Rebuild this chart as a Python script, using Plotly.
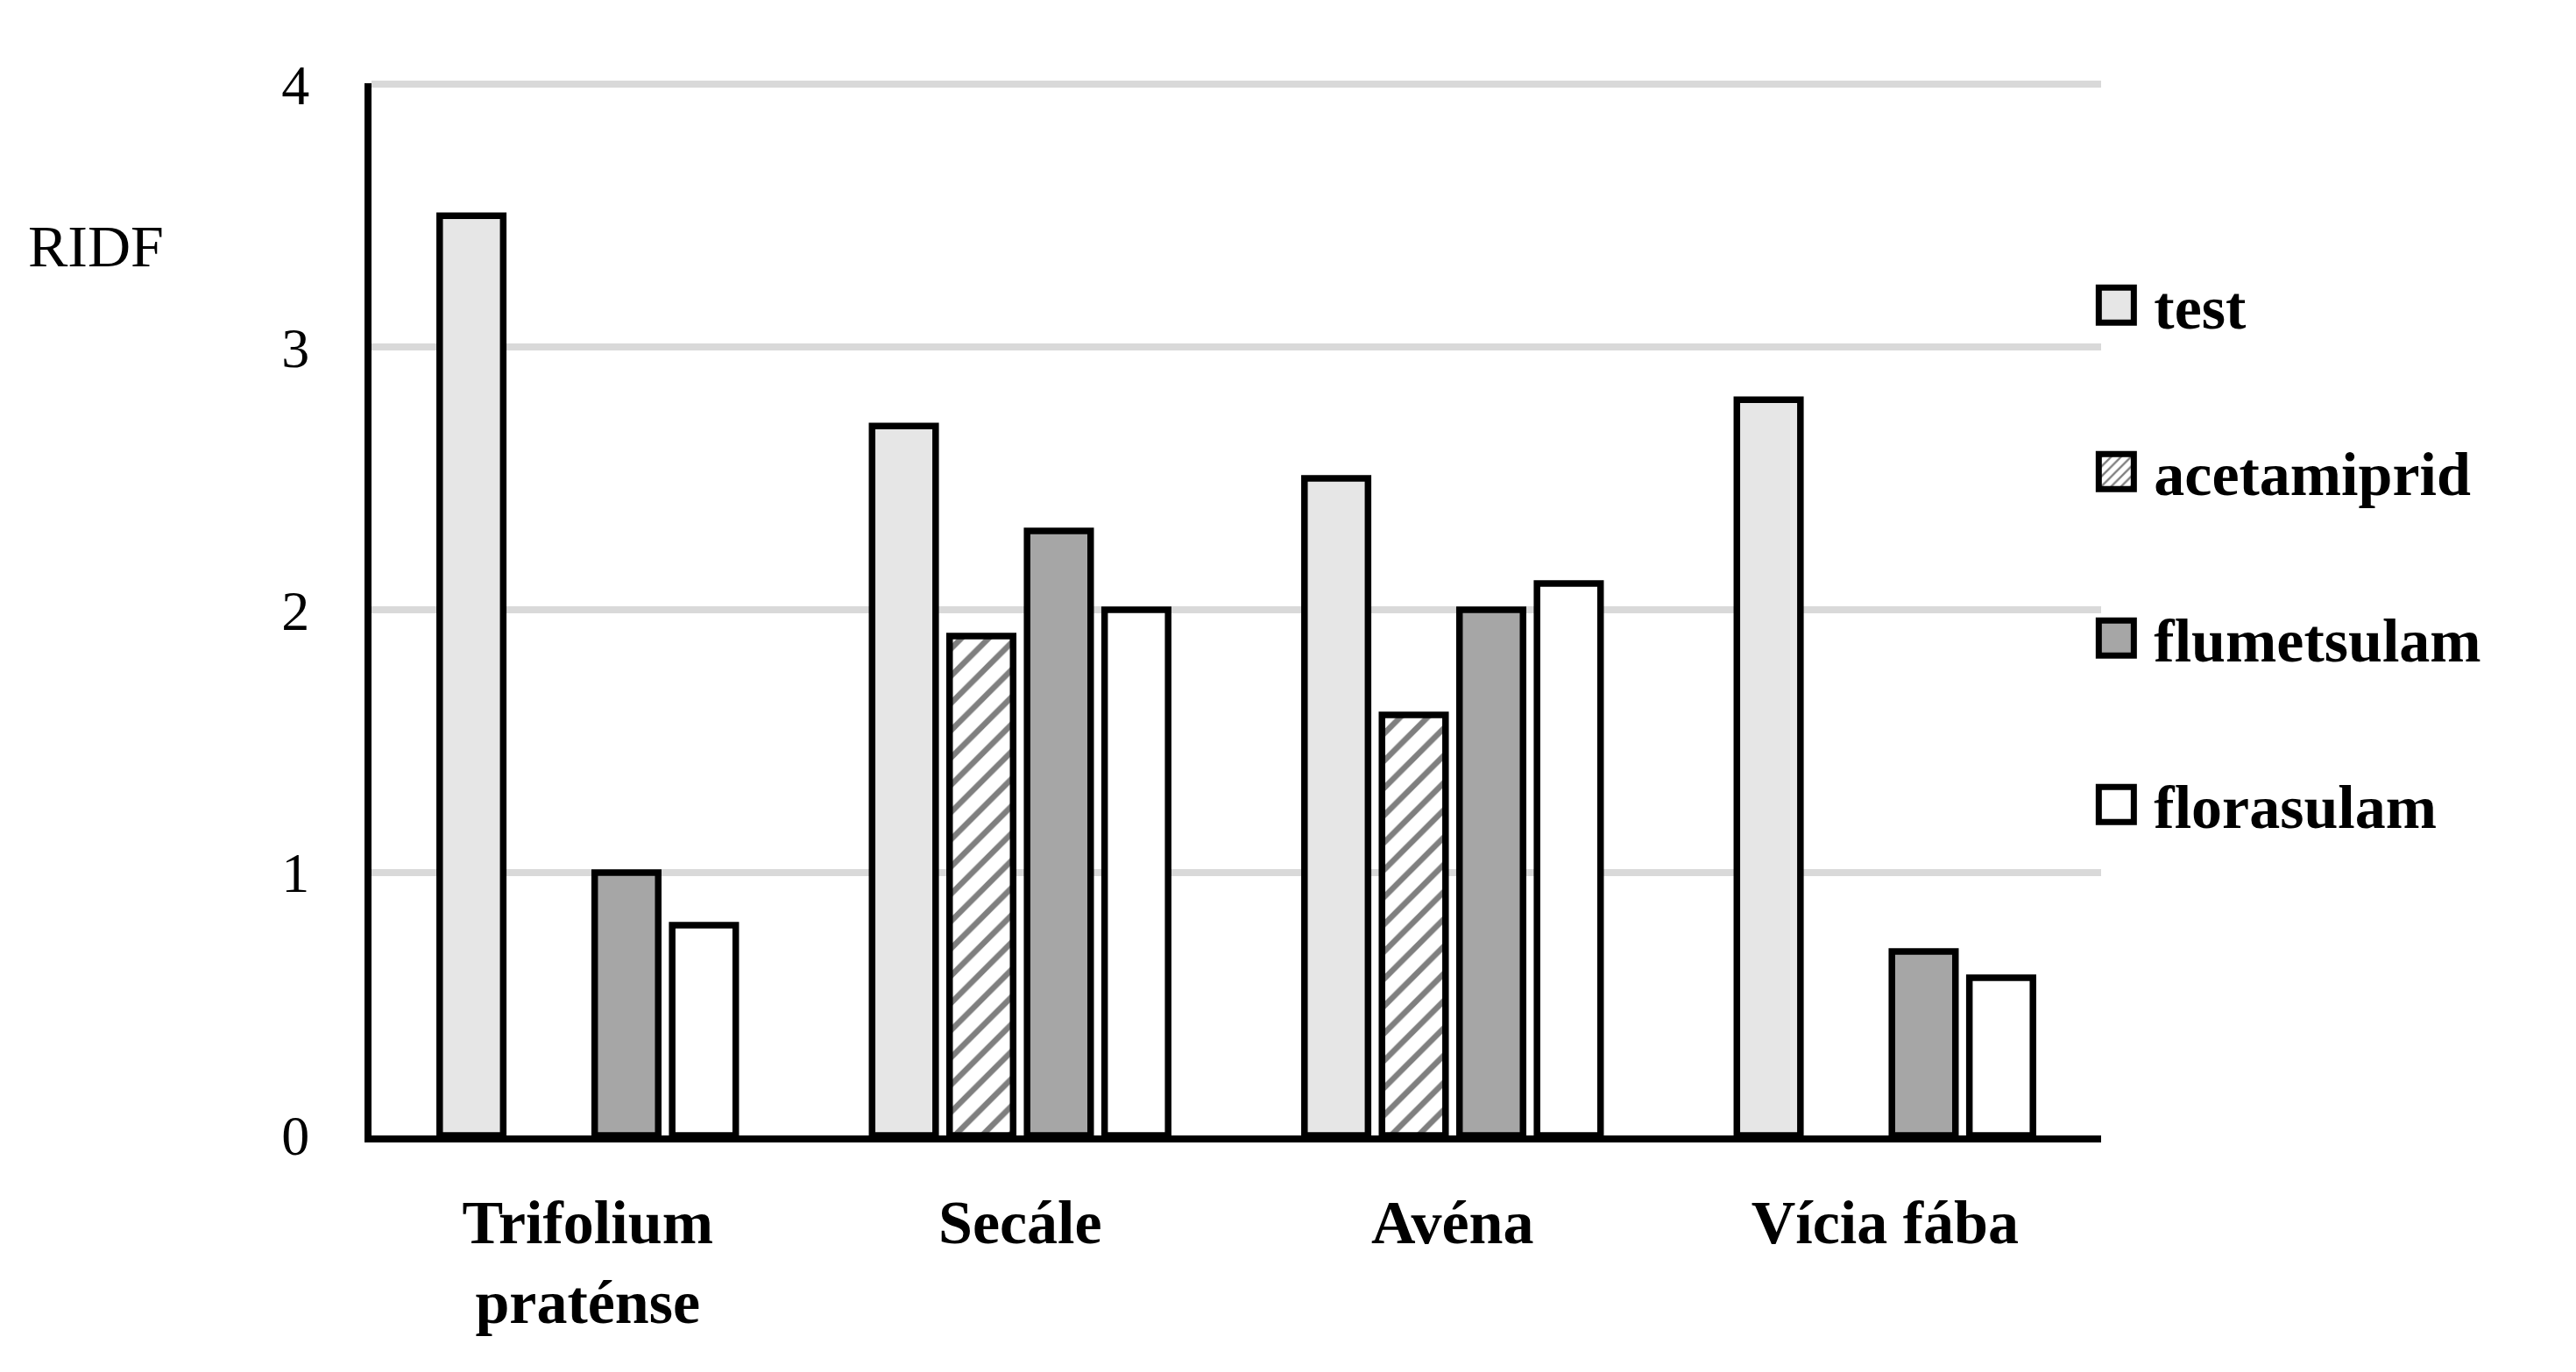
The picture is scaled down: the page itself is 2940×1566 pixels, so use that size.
import plotly.graph_objects as go

categories = ["Trifolium<br>praténse", "Secále", "Avéna", "Vícia fába"]
series_names = ["test", "acetamiprid", "flumetsulam", "florasulam"]
test_vals = [3.5, 2.7, 2.5, 2.8]
acetamiprid_vals = [None, 1.9, 1.6, None]
flumetsulam_vals = [1.0, 2.3, 2.0, 0.7]
florasulam_vals = [0.8, 2.0, 2.1, 0.6]
y_ticks = [0, 1, 2, 3, 4]

W, H = 2940, 1566
L, R, T, B = 424, 2398, 95, 1296

serif = "Liberation Serif, Times New Roman, serif"
line = dict(color="black", width=7.5)

fig = go.Figure()
fig.add_trace(go.Bar(name=series_names[0], x=categories, y=test_vals,
                     marker=dict(color="#E6E6E6", line=line), legendgroup="a"))
fig.add_trace(go.Bar(name=series_names[1], x=categories, y=acetamiprid_vals,
                     marker=dict(color="white", line=line,
                                 pattern=dict(shape="/", fgcolor="black", bgcolor="white",
                                              size=22, solidity=0.3)),
                     legendgroup="b"))
fig.add_trace(go.Bar(name=series_names[2], x=categories, y=flumetsulam_vals,
                     marker=dict(color="#A6A6A6", line=line), legendgroup="c"))
fig.add_trace(go.Bar(name=series_names[3], x=categories, y=florasulam_vals,
                     marker=dict(color="white", line=line), legendgroup="d"))

fig.update_layout(
    width=W, height=H,
    margin=dict(l=L, r=W - R, t=T, b=H - B, autoexpand=False),
    paper_bgcolor="white", plot_bgcolor="white",
    barmode="group", bargap=0.283, bargroupgap=0.18,
    font=dict(family=serif, color="black"),
    showlegend=True,
    legend=dict(x=0.987, xanchor="left", y=0.8325, yanchor="top",
                bgcolor="rgba(0,0,0,0)", borderwidth=0,
                font=dict(family=serif, size=70, color="black", weight="bold"),
                itemwidth=76, tracegroupgap=96, traceorder="grouped",
                itemclick=False),
    xaxis=dict(showline=True, linecolor="black", linewidth=8, ticks="",
               tickfont=dict(family=serif, size=70, color="black", weight="bold"),
               ticklabelstandoff=31, showgrid=False, zeroline=False),
    yaxis=dict(range=[0, 4.004], tickvals=y_ticks, showline=True, linecolor="black",
               linewidth=8, ticks="", showgrid=True, gridcolor="#D9D9D9", gridwidth=8,
               zeroline=False, tickfont=dict(family=serif, size=64, color="black"),
               ticklabelstandoff=50),
    annotations=[dict(text="RIDF", xref="paper", yref="paper",
                      x=(109 - L) / (R - L), y=(B - 281) / (B - T),
                      xanchor="center", yanchor="middle", showarrow=False,
                      font=dict(family=serif, size=68, color="black"))],
)

post = """
document.body.style.margin = '0';
document.body.style.padding = '0';
var gd = document.getElementById('{plot_id}');
function fixLegend(){
  gd.querySelectorAll('.legendpoints path').forEach(function(p){
    p.setAttribute('d','M20,20H-20V-20H20Z');
    p.style.strokeWidth='7px';
  });
}
fixLegend();
setTimeout(fixLegend, 300);
"""

fig.write_html("out.html", post_script=post, config={"displayModeBar": False})
